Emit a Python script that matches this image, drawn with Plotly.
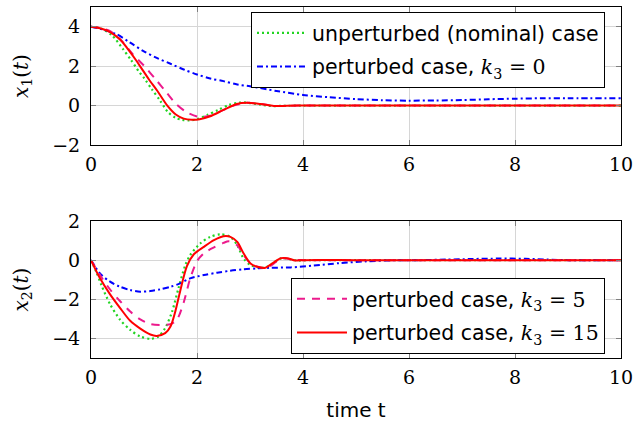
import plotly.graph_objects as go

# ---------------- data ----------------
# x1(t), top panel
t_x1_nom = [0, 0.2, 0.4, 0.6, 0.75, 0.9, 1.0, 1.15, 1.3, 1.45, 1.6, 1.72, 1.85, 2.0, 2.2, 2.4, 2.6, 2.8, 2.95, 3.2, 3.4, 3.7, 4, 5, 6, 7, 8, 9, 10]
x1_nom = [4.0, 3.9, 3.55, 2.88, 2.33, 1.74, 1.4, 0.82, 0.27, -0.32, -0.63, -0.72, -0.75, -0.69, -0.47, -0.22, 0.03, 0.15, 0.15, 0.05, -0.02, -0.01, 0, 0, 0, 0, 0, 0, 0]

t_x1_k0 = [0, 0.23, 0.49, 0.74, 0.99, 1.24, 1.5, 1.75, 2.0, 2.25, 2.5, 2.76, 3.0, 3.5, 4.0, 4.5, 5.0, 5.5, 6.0, 6.5, 7.0, 7.5, 8.0, 8.5, 9.0, 10.0]
x1_k0 = [4.0, 3.86, 3.61, 3.19, 2.76, 2.42, 2.12, 1.83, 1.58, 1.37, 1.24, 1.07, 0.98, 0.74, 0.54, 0.42, 0.33, 0.27, 0.25, 0.26, 0.28, 0.32, 0.35, 0.37, 0.37, 0.37]

t_x1_k5 = [0, 0.2, 0.36, 0.58, 0.79, 1.0, 1.22, 1.42, 1.6, 1.8, 2.0, 2.12, 2.25, 2.44, 2.69, 2.95, 3.2, 3.45, 3.7, 4, 5, 6, 7, 8, 9, 10]
x1_k5 = [4.0, 3.92, 3.78, 3.28, 2.6, 2.02, 1.33, 0.68, 0.1, -0.33, -0.55, -0.57, -0.52, -0.29, 0.0, 0.14, 0.08, -0.02, -0.01, 0, 0, 0, 0, 0, 0, 0]

t_x1_k15 = [0, 0.2, 0.36, 0.55, 0.7, 0.85, 0.95, 1.1, 1.25, 1.44, 1.6, 1.75, 1.9, 2.05, 2.25, 2.5, 2.75, 2.95, 3.2, 3.45, 3.7, 4, 5, 6, 7, 8, 9, 10]
x1_k15 = [4.0, 3.9, 3.73, 3.35, 2.85, 2.3, 1.9, 1.3, 0.75, 0.0, -0.45, -0.66, -0.72, -0.69, -0.54, -0.22, 0.08, 0.14, 0.08, -0.02, -0.01, 0, 0, 0, 0, 0, 0, 0]

# x2(t), bottom panel
t_x2_nom = [0, 0.1, 0.2, 0.36, 0.55, 0.74, 0.93, 1.13, 1.27, 1.4, 1.53, 1.65, 1.78, 1.87, 2.06, 2.25, 2.44, 2.63, 2.76, 2.88, 3.01, 3.2, 3.32, 3.45, 3.6, 3.75, 3.9, 4.1, 5, 6, 7, 8, 9, 10]
x2_nom = [0, -0.6, -1.3, -2.25, -3.05, -3.56, -3.9, -4.02, -3.9, -3.47, -2.63, -1.44, -0.25, 0.25, 0.85, 1.19, 1.32, 1.19, 0.76, 0.08, -0.25, -0.39, -0.34, -0.12, 0.1, 0.05, -0.02, 0, 0, 0, 0, 0, 0, 0]

t_x2_k0 = [0, 0.17, 0.36, 0.55, 0.74, 0.93, 1.12, 1.31, 1.5, 1.68, 1.87, 2.13, 2.38, 2.63, 2.88, 3.14, 3.39, 3.77, 4.2, 4.7, 5.2, 5.7, 6.2, 6.7, 7.2, 7.7, 8.2, 8.6, 9.0, 10.0]
x2_k0 = [0, -0.68, -1.1, -1.36, -1.53, -1.61, -1.58, -1.49, -1.36, -1.19, -0.93, -0.76, -0.64, -0.54, -0.47, -0.42, -0.39, -0.37, -0.28, -0.15, -0.06, -0.01, 0.0, 0.03, 0.06, 0.08, 0.07, 0.03, 0.0, 0.0]

t_x2_k5 = [0, 0.17, 0.36, 0.55, 0.74, 0.93, 1.12, 1.31, 1.5, 1.62, 1.75, 1.87, 2.0, 2.13, 2.32, 2.5, 2.6, 2.76, 2.88, 3.01, 3.14, 3.32, 3.5, 3.65, 3.8, 4.0, 5, 6, 7, 8, 9, 10]
x2_k5 = [0, -0.76, -1.5, -2.1, -2.63, -3.03, -3.27, -3.31, -3.27, -3.05, -2.15, -0.95, -0.05, 0.35, 0.65, 0.88, 0.96, 0.76, 0.25, -0.17, -0.34, -0.39, -0.08, 0.1, 0.02, 0, 0, 0, 0, 0, 0, 0]

t_x2_k15 = [0, 0.17, 0.36, 0.55, 0.74, 0.93, 1.12, 1.24, 1.4, 1.5, 1.59, 1.68, 1.81, 1.94, 2.13, 2.32, 2.5, 2.63, 2.76, 2.88, 3.01, 3.14, 3.29, 3.42, 3.58, 3.7, 3.85, 4.0, 4.3, 5, 6, 7, 8, 9, 10]
x2_k15 = [0, -0.93, -1.75, -2.45, -3.1, -3.5, -3.8, -3.87, -3.73, -3.39, -2.63, -1.61, -0.3, 0.3, 0.68, 1.02, 1.22, 1.19, 0.93, 0.34, -0.17, -0.34, -0.39, -0.17, 0.1, 0.1, -0.02, 0.0, 0.01, 0, 0, 0, 0, 0, 0]

# labels
name_nom = "unperturbed (nominal) case"
MATH = "<span style='font-family:DejaVu Serif'>"
name_k0 = "perturbed case, " + MATH + "<i>k</i><sub>3</sub> = 0</span>"
name_k5 = "perturbed case, " + MATH + "<i>k</i><sub>3</sub> = 5</span>"
name_k15 = "perturbed case, " + MATH + "<i>k</i><sub>3</sub> = 15</span>"
x_ticks = [0, 2, 4, 6, 8, 10]
x_ticktext = ["0", "2", "4", "6", "8", "10"]
y1_ticks = [-2, 0, 2, 4]
y1_ticktext = ["\u22122", "0", "2", "4"]
y2_ticks = [-4, -2, 0, 2]
y2_ticktext = ["\u22124", "\u22122", "0", "2"]
y1_title = "<i>x</i><sub>1</sub>(<i>t</i>)"
y2_title = "<i>x</i><sub>2</sub>(<i>t</i>)"
x_title = "time t"

# ---------------- styles ----------------
GREEN = "#22d422"
BLUE = "#0000ff"
MAGENTA = "#ec1a8c"
RED = "#ff0000"
st_nom = dict(color=GREEN, width=2.2, dash="2px,3px", shape="spline", smoothing=0.8)
st_k0 = dict(color=BLUE, width=2, dash="6px,3px,2px,3px", shape="spline", smoothing=0.8)
st_k5 = dict(color=MAGENTA, width=2, dash="8px,7px", shape="spline", smoothing=0.8)
st_k15 = dict(color=RED, width=2, shape="spline", smoothing=0.8)

fig = go.Figure()
# top panel
fig.add_trace(go.Scatter(x=t_x1_nom, y=x1_nom, mode="lines", line=st_nom, name=name_nom,
                         xaxis="x", yaxis="y", legend="legend", legendgroup="a"))
fig.add_trace(go.Scatter(x=t_x1_k0, y=x1_k0, mode="lines", line=st_k0, name=name_k0,
                         xaxis="x", yaxis="y", legend="legend", legendgroup="b"))
fig.add_trace(go.Scatter(x=t_x1_k5, y=x1_k5, mode="lines", line=st_k5, name=name_k5,
                         xaxis="x", yaxis="y", showlegend=False))
fig.add_trace(go.Scatter(x=t_x1_k15, y=x1_k15, mode="lines", line=st_k15, name=name_k15,
                         xaxis="x", yaxis="y", showlegend=False))
# bottom panel
fig.add_trace(go.Scatter(x=t_x2_nom, y=x2_nom, mode="lines", line=st_nom, name=name_nom,
                         xaxis="x2", yaxis="y2", showlegend=False))
fig.add_trace(go.Scatter(x=t_x2_k0, y=x2_k0, mode="lines", line=st_k0, name=name_k0,
                         xaxis="x2", yaxis="y2", showlegend=False))
fig.add_trace(go.Scatter(x=t_x2_k5, y=x2_k5, mode="lines", line=st_k5, name=name_k5,
                         xaxis="x2", yaxis="y2", legend="legend2", legendgroup="c"))
fig.add_trace(go.Scatter(x=t_x2_k15, y=x2_k15, mode="lines", line=st_k15, name=name_k15,
                         xaxis="x2", yaxis="y2", legend="legend2", legendgroup="d"))

TICKFONT = dict(family="DejaVu Serif", size=19, color="black")
common_ax = dict(showline=True, linecolor="black", linewidth=1, mirror="ticks",
                 ticks="inside", ticklen=5, tickcolor="#808080", tickwidth=1,
                 showgrid=True, gridcolor="#d6d6d6", gridwidth=1, zeroline=False,
                 tickfont=TICKFONT, automargin=False)
LEGFONT = dict(family="DejaVu Sans", size=20.5, color="black")

fig.update_layout(
    width=635, height=424,
    margin=dict(l=91, r=14, t=7, b=66, autoexpand=False),
    paper_bgcolor="white", plot_bgcolor="white",
    xaxis=dict(domain=[0, 1], anchor="y", range=[0, 10], tickvals=x_ticks, ticktext=x_ticktext,
               ticklabelstandoff=2, **common_ax),
    yaxis=dict(domain=[0.6068, 1], anchor="x", range=[-2, 5], tickvals=y1_ticks, ticktext=y1_ticktext,
               ticklabelstandoff=6,
               title=dict(text=y1_title, font=dict(family="DejaVu Serif", size=20, color="black"), standoff=18),
               **common_ax),
    xaxis2=dict(domain=[0, 1], anchor="y2", range=[0, 10], tickvals=x_ticks, ticktext=x_ticktext,
                ticklabelstandoff=2,
                title=dict(text=x_title, font=dict(family="DejaVu Sans", size=20, color="black"), standoff=16),
                **common_ax),
    yaxis2=dict(domain=[0, 0.3903], anchor="x2", range=[-5, 2], tickvals=y2_ticks, ticktext=y2_ticktext,
                ticklabelstandoff=6,
                title=dict(text=y2_title, font=dict(family="DejaVu Serif", size=20, color="black"), standoff=18),
                **common_ax),
    legend=dict(x=0.9698, xanchor="right", y=0.9858, yanchor="top", bordercolor="black", borderwidth=1,
                bgcolor="white", font=LEGFONT,
                itemwidth=50, traceorder="grouped", tracegroupgap=4),
    legend2=dict(x=0.9698, xanchor="right", y=0.0114, yanchor="bottom", bordercolor="black", borderwidth=1,
                 bgcolor="white", font=LEGFONT,
                 itemwidth=50, traceorder="grouped", tracegroupgap=4),
)

fig.write_html("out.html")
